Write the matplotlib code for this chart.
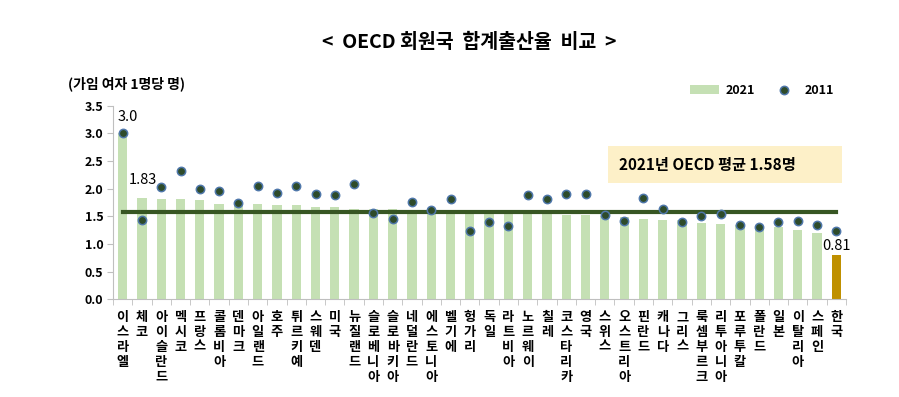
import matplotlib
matplotlib.use("Agg")
import matplotlib.pyplot as plt
import numpy as np
from matplotlib.lines import Line2D
from matplotlib.patches import Patch, Rectangle

plt.rcParams['font.family'] = ['Noto Sans CJK KR', 'DejaVu Sans']

countries = ['이스라엘', '체코', '아이슬란드', '멕시코', '프랑스', '콜롬비아', '덴마크', '아일랜드',
             '호주', '튀르키예', '스웨덴', '미국', '뉴질랜드', '슬로베니아', '슬로바키아', '네덜란드',
             '에스토니아', '벨기에', '헝가리', '독일', '라트비아', '노르웨이', '칠레', '코스타리카',
             '영국', '스위스', '오스트리아', '핀란드', '캐나다', '그리스', '룩셈부르크', '리투아니아',
             '포루투칼', '폴란드', '일본', '이탈리아', '스페인', '한국']
tfr_2021 = [3.00, 1.83, 1.82, 1.82, 1.80, 1.72, 1.72, 1.72, 1.70, 1.70, 1.67, 1.66, 1.64, 1.64,
            1.63, 1.62, 1.61, 1.60, 1.59, 1.58, 1.57, 1.55, 1.54, 1.53, 1.53, 1.51, 1.48, 1.46,
            1.43, 1.43, 1.38, 1.36, 1.35, 1.33, 1.30, 1.25, 1.19, 0.81]
tfr_2011 = [3.00, 1.43, 2.03, 2.32, 2.00, 1.96, 1.75, 2.04, 1.93, 2.05, 1.90, 1.89, 2.09, 1.56,
            1.45, 1.76, 1.61, 1.81, 1.24, 1.39, 1.33, 1.88, 1.81, 1.90, 1.91, 1.52, 1.42, 1.83,
            1.63, 1.39, 1.51, 1.55, 1.35, 1.30, 1.39, 1.42, 1.34, 1.24]
oecd_avg = 1.58
yticks = [0.0, 0.5, 1.0, 1.5, 2.0, 2.5, 3.0, 3.5]

green = '#c5e0b4'
gold = '#bf9000'
line_green = '#375623'

fig = plt.figure(figsize=(8.99, 3.97), dpi=100)
ax = fig.add_axes([0.1257, 0.246, 0.8153, 0.4878])

x = np.arange(len(countries))
colors = [green] * (len(countries) - 1) + [gold]
ax.bar(x, tfr_2021, width=0.48, color=colors, zorder=2)
ax.plot([x[0], x[-1]], [oecd_avg, oecd_avg], color=line_green, lw=3, zorder=3)
ax.plot(x, tfr_2011, 'o', ms=6, mfc='#2e4b2a', mec='#4f77aa', mew=1.1, zorder=4)

ax.set_xlim(-0.5, len(countries) - 0.5)
ax.set_ylim(0, 3.5)
ax.set_yticks(yticks)
ax.set_yticklabels([f'{v:.1f}' for v in yticks], fontsize=9, fontweight='bold')
ax.set_xticks(x)
ax.set_xticklabels(['\n'.join(c) for c in countries], fontsize=9.5, fontweight='bold',
                   va='top', linespacing=1.07)
ax.set_xticks(np.arange(-0.5, len(countries)), minor=True)
ax.tick_params(axis='x', which='major', length=0, pad=8)
ax.tick_params(axis='x', which='minor', length=4, color='#bfbfbf')
ax.tick_params(axis='y', length=4, color='#bfbfbf', pad=3)
for s in ['top', 'right']:
    ax.spines[s].set_visible(False)
for s in ['left', 'bottom']:
    ax.spines[s].set_color('#bfbfbf')

# value labels
ax.annotate(f'{tfr_2021[0]:.1f}', (x[0], tfr_2021[0]), xytext=(4, 7), textcoords='offset points',
            ha='center', va='bottom', fontsize=10.5)
ax.annotate(f'{tfr_2021[1]:.2f}', (x[1], tfr_2021[1]), xytext=(1, 8), textcoords='offset points',
            ha='center', va='bottom', fontsize=10.5)
ax.annotate(f'{tfr_2021[-1]:.2f}', (x[-1], tfr_2021[-1]), xytext=(0, 1), textcoords='offset points',
            ha='center', va='bottom', fontsize=10.5)

# average box
ax.add_patch(Rectangle((0.675, 0.60), 0.32, 0.19, transform=ax.transAxes,
                       facecolor='#fdf0c8', edgecolor='none', zorder=1, clip_on=False))
ax.text(0.69, 0.695, f'2021년 OECD 평균 {oecd_avg:.2f}명', transform=ax.transAxes,
        fontsize=11, fontweight='bold', va='center', ha='left', zorder=5)

fig.text(0.522, 0.893, '<  OECD 회원국  합계출산율  비교  >', ha='center', va='center',
         fontsize=14, fontweight='bold')
fig.text(0.076, 0.788, '(가임 여자 1명당 명)', ha='left', va='center', fontsize=10, fontweight='bold')

handles = [Patch(facecolor=green, edgecolor='none'),
           Line2D([], [], ls='', marker='o', ms=6, mfc='#2e4b2a', mec='#4f77aa', mew=1.1)]
fig.legend(handles, ['2021', '2011'], loc='center', bbox_to_anchor=(0.848, 0.772), ncol=2,
           frameon=False, prop={'size': 9, 'weight': 'bold'}, handlelength=2.3, handleheight=0.7,
           columnspacing=1.2, handletextpad=0.5)

fig.savefig('out.png', dpi=100)
